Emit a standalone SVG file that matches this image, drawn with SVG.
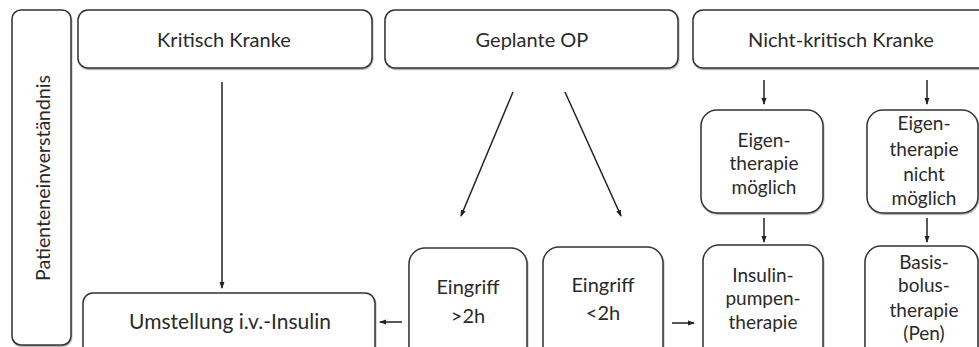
<svg xmlns="http://www.w3.org/2000/svg" width="979" height="347" viewBox="0 0 979 347">
<defs>
<marker id="ah" markerWidth="8" markerHeight="8" refX="6" refY="4" orient="auto" markerUnits="userSpaceOnUse">
<path d="M0,1.5 L7,4 L0,6.5 Z" fill="#222"/>
</marker>
<filter id="sh" x="-5%" y="-5%" width="110%" height="115%">
<feDropShadow dx="0.5" dy="1.2" stdDeviation="0.6" flood-color="#000" flood-opacity="0.35"/>
</filter>
</defs>
<style>
.b{fill:#fff;stroke:#333;stroke-width:1.5;filter:url(#sh)}
.t{font-family:Lato,"Open Sans",sans-serif;font-size:20px;fill:#2a2a2a;text-anchor:middle}
.s{font-family:Lato,"Open Sans",sans-serif;font-size:19px;fill:#2a2a2a;text-anchor:middle}
.v{font-family:Lato,"Open Sans",sans-serif;font-size:19.5px;fill:#2a2a2a;text-anchor:middle}
.c{stroke:#222;stroke-width:1.5;fill:none;marker-end:url(#ah)}
</style>
<rect width="979" height="347" fill="#fff"/>
<g id="patient">
<rect class="b" x="12" y="10" width="59" height="335" rx="9"/>
<text class="v" transform="translate(50,178) rotate(-90)">Patienteneinverständnis</text>
</g>
<g id="kritisch">
<rect class="b" x="78" y="10" width="294" height="58" rx="10"/>
<text class="t" x="224" y="47">Kritisch Kranke</text>
</g>
<g id="geplant">
<rect class="b" x="385" y="10" width="293" height="58" rx="10"/>
<text class="t" x="532" y="47">Geplante OP</text>
</g>
<g id="nichtkritisch">
<rect class="b" x="693" y="10" width="296" height="58" rx="10"/>
<text class="t" x="841" y="47">Nicht-kritisch Kranke</text>
</g>
<g id="eigen1">
<rect class="b" x="701" y="110" width="122" height="103" rx="16"/>
<text class="s" x="764" y="147">Eigen-</text>
<text class="s" x="764" y="170">therapie</text>
<text class="s" x="764" y="194">möglich</text>
</g>
<g id="eigen2">
<rect class="b" x="867" y="110" width="111" height="103" rx="16"/>
<text class="s" x="924" y="130">Eigen-</text>
<text class="s" x="924" y="156">therapie</text>
<text class="s" x="924" y="181">nicht</text>
<text class="s" x="924" y="205">möglich</text>
</g>
<g id="umstellung">
<rect class="b" x="83" y="293" width="292" height="70" rx="10"/>
<text class="t" x="230" y="329" style="font-size:21px">Umstellung i.v.-Insulin</text>
</g>
<g id="eingriff2">
<rect class="b" x="409" y="248" width="118" height="115" rx="16"/>
<text class="t" x="468" y="294">Eingriff</text>
<text class="t" x="468" y="323">&gt;2h</text>
</g>
<g id="eingriff1">
<rect class="b" x="543" y="247" width="120" height="116" rx="16"/>
<text class="t" x="603" y="292">Eingriff</text>
<text class="t" x="603" y="320">&lt;2h</text>
</g>
<g id="pumpe">
<rect class="b" x="703" y="245" width="120" height="118" rx="16"/>
<text class="s" x="763" y="282">Insulin-</text>
<text class="s" x="763" y="305">pumpen-</text>
<text class="s" x="763" y="329">therapie</text>
</g>
<g id="basis">
<rect class="b" x="865" y="246" width="113" height="117" rx="16"/>
<text class="s" x="924" y="269">Basis-</text>
<text class="s" x="924" y="292">bolus-</text>
<text class="s" x="924" y="317">therapie</text>
<text class="s" x="924" y="340">(Pen)</text>
</g>
<g id="connectors">
<line class="c" x1="222" y1="82" x2="222" y2="288"/>
<line class="c" x1="513" y1="92" x2="461" y2="216"/>
<line class="c" x1="565" y1="92" x2="621" y2="216"/>
<line class="c" x1="402" y1="322" x2="380" y2="322"/>
<line class="c" x1="672" y1="323" x2="694" y2="323"/>
<line class="c" x1="764" y1="80" x2="764" y2="104"/>
<line class="c" x1="927" y1="80" x2="927" y2="104"/>
<line class="c" x1="764" y1="218" x2="764" y2="242"/>
<line class="c" x1="927" y1="218" x2="927" y2="242"/>
</g>
</svg>
